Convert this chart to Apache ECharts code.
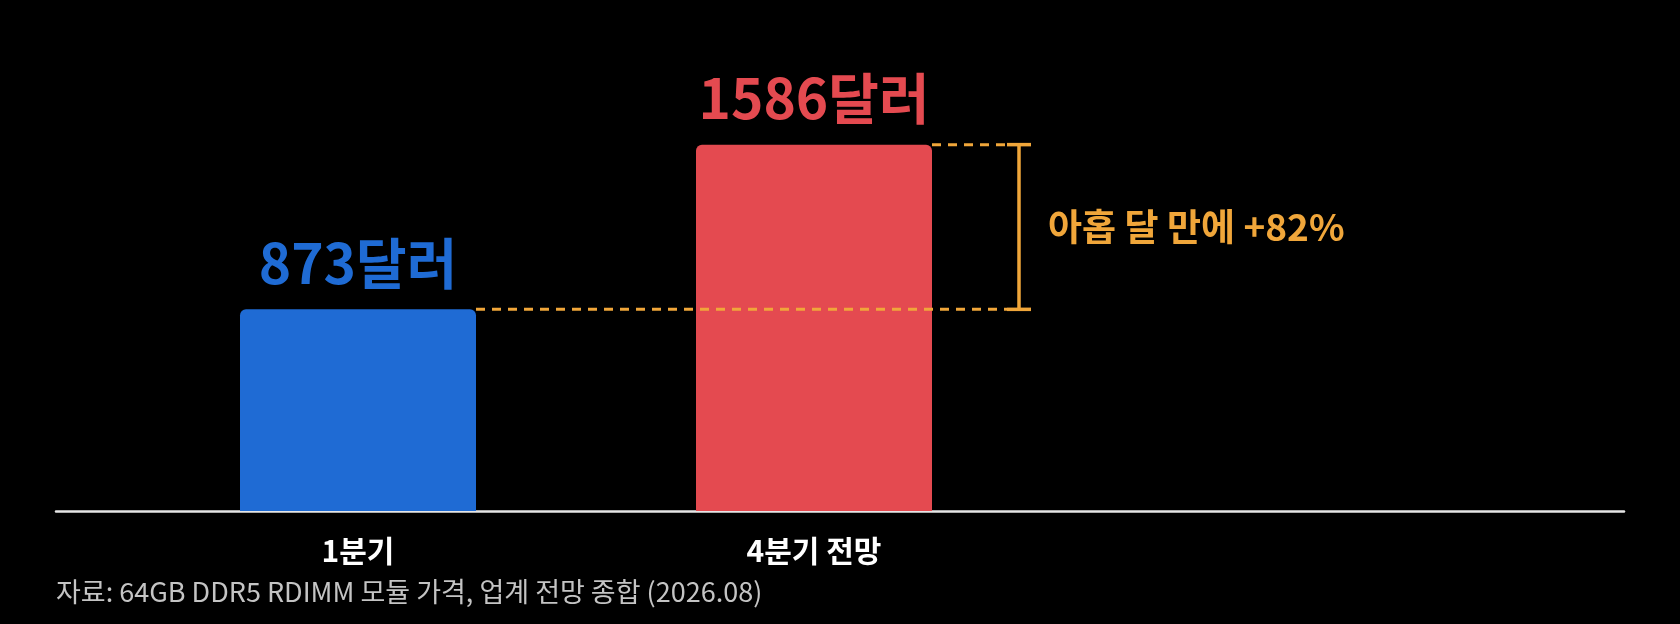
<!DOCTYPE html>
<html>
<head>
<meta charset="utf-8">
<script src="https://cdn.jsdelivr.net/npm/echarts@6/dist/echarts.min.js"></script>
<style>
  html, body { margin: 0; padding: 0; background: #000; }
  #chart { width: 1680px; height: 624px; }
</style>
</head>
<body>
<div id="chart"></div>
<script>
// 분기별 64GB DDR5 RDIMM 모듈 가격
let categories = ['1분기', '4분기 전망', '']
let prices = [873, 1586]
let barColors = ['#1f6bd4', '#e44a50']
let unit = '달러'
let growthText = '아홉 달 만에 +82%'
let sourceText = '자료: 64GB DDR5 RDIMM 모듈 가격, 업계 전망 종합 (2026.08)'

const FONT = '"Noto Sans CJK KR", "Noto Sans", sans-serif'
const ORANGE = '#f0a63a'
const BAR_W = 236

let chart = echarts.init(document.getElementById('chart'), null, { renderer: 'canvas' })

function renderBracket(params, api) {
  let low = api.coord([0, api.value(2)])
  let high = api.coord([1, api.value(1)])
  let half = BAR_W / 2
  let bx = high[0] + half + 87 // 괄호 위치
  let dash = { stroke: ORANGE, lineWidth: 3, lineDash: [9, 7] }
  let solid = { stroke: ORANGE, lineWidth: 3.5 }
  return {
    type: 'group',
    children: [
      { type: 'line', shape: { x1: low[0] + half, y1: low[1], x2: bx - 12, y2: low[1] }, style: dash },
      { type: 'line', shape: { x1: high[0] + half, y1: high[1], x2: bx - 12, y2: high[1] }, style: dash },
      { type: 'line', shape: { x1: bx, y1: high[1], x2: bx, y2: low[1] }, style: solid },
      { type: 'line', shape: { x1: bx - 12, y1: high[1], x2: bx + 12, y2: high[1] }, style: solid },
      { type: 'line', shape: { x1: bx - 12, y1: low[1], x2: bx + 12, y2: low[1] }, style: solid },
      {
        type: 'text',
        x: bx + 29,
        y: (high[1] + low[1]) / 2,
        style: {
          text: growthText,
          fill: ORANGE,
          font: 'bold 37px ' + FONT,
          textAlign: 'left',
          textVerticalAlign: 'middle'
        }
      }
    ]
  }
}

let option = {
  backgroundColor: '#000',
  animation: false,
  grid: [
    { left: 130, width: 1368, top: 49, bottom: 113 },
    { left: 56, right: 56, top: 49, bottom: 113 }
  ],
  xAxis: [
    {
      type: 'category',
      gridIndex: 0,
      data: categories,
      axisLine: { show: false },
      axisTick: { show: false },
      axisLabel: {
        color: '#fff',
        fontSize: 30,
        fontWeight: 'bold',
        fontFamily: FONT,
        margin: 25
      }
    },
    {
      type: 'category',
      gridIndex: 1,
      data: [''],
      axisLine: { show: true, lineStyle: { color: '#e6e6e6', width: 2.5 } },
      axisTick: { show: false },
      axisLabel: { show: false }
    }
  ],
  yAxis: [
    { type: 'value', gridIndex: 0, min: 0, max: 2000, show: false },
    { type: 'value', gridIndex: 1, min: 0, max: 2000, show: false }
  ],
  series: [
    {
      type: 'bar',
      xAxisIndex: 0,
      yAxisIndex: 0,
      barWidth: BAR_W,
      z: 2,
      data: prices.map((v, i) => ({
        value: v,
        itemStyle: { color: barColors[i], borderRadius: [6, 6, 0, 0] },
        label: { color: barColors[i] }
      })),
      label: {
        show: true,
        position: 'top',
        distance: 19,
        fontSize: 55,
        fontWeight: 'bold',
        fontFamily: FONT,
        formatter: p => p.value + unit
      }
    },
    {
      type: 'custom',
      xAxisIndex: 0,
      yAxisIndex: 0,
      z: 5,
      renderItem: renderBracket,
      data: [[1, prices[1], prices[0]]]
    }
  ],
  graphic: [
    {
      type: 'text',
      left: 56,
      top: 578,
      style: {
        text: sourceText,
        fill: '#c4c4c4',
        font: '27px ' + FONT
      }
    }
  ]
}

chart.setOption(option)
</script>
</body>
</html>
